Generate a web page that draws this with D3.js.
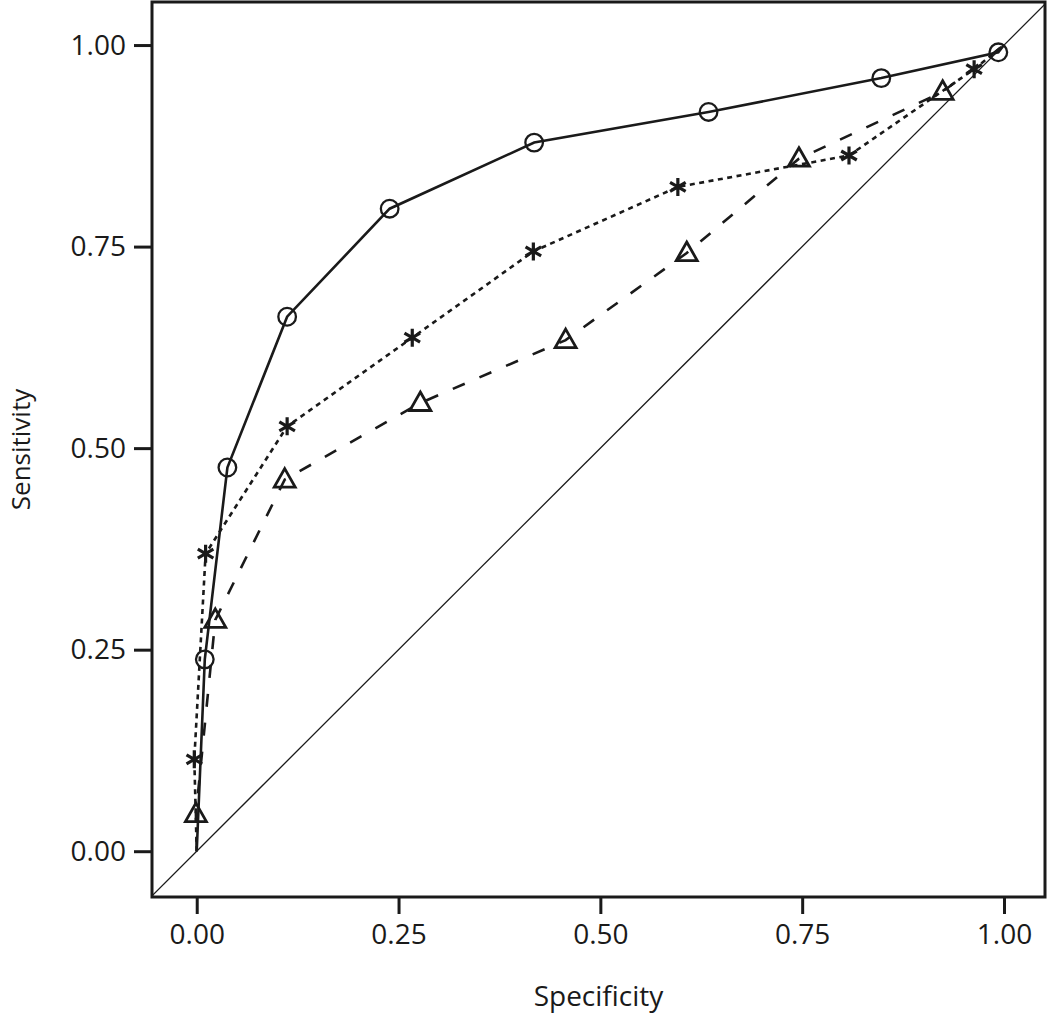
<!DOCTYPE html>
<html>
<head>
<meta charset="utf-8">
<script src="https://cdn.jsdelivr.net/npm/d3@7"></script>
<style>
body { margin: 0; background: #fff; }
svg { display: block; }
text { font-family: "Open Sans", "Noto Sans", sans-serif; fill: #1a1a1a; }
</style>
</head>
<body>
<svg id="chart" width="1050" height="1015"></svg>
<script>
// Data (specificity = x, sensitivity = y)
const circleX = [0, 0.010, 0.038, 0.112, 0.239, 0.418, 0.634, 0.848, 0.993, 1];
const circleY = [0, 0.238, 0.476, 0.663, 0.797, 0.879, 0.917, 0.959, 0.991, 1];
const starX = [0, -0.003, 0.011, 0.112, 0.267, 0.417, 0.596, 0.808, 0.963, 1];
const starY = [0, 0.114, 0.369, 0.527, 0.637, 0.744, 0.824, 0.863, 0.970, 1];
const triX = [0, -0.001, 0.023, 0.109, 0.277, 0.457, 0.607, 0.746, 0.924, 1];
const triY = [0, 0.046, 0.287, 0.461, 0.556, 0.634, 0.742, 0.859, 0.942, 1];
const tickValues = [0, 0.25, 0.5, 0.75, 1];
const tickLabels = ["0.00", "0.25", "0.50", "0.75", "1.00"];
const xTitle = "Specificity";
const yTitle = "Sensitivity";

const svg = d3.select("#chart");
const L = 152, R = 1045, T = 2, B = 897;
const x = d3.scaleLinear().domain([-0.0554, 1.0508]).range([L, R]);
const y = d3.scaleLinear().domain([-0.0568, 1.0534]).range([B, T]);
const ink = "#1a1a1a";

svg.append("defs").append("clipPath").attr("id", "clip")
  .append("rect").attr("x", L).attr("y", T).attr("width", R - L).attr("height", B - T);

const g = svg.append("g").attr("clip-path", "url(#clip)");

// diagonal reference
g.append("line")
  .attr("x1", x(-0.1)).attr("y1", y(-0.1))
  .attr("x2", x(1.1)).attr("y2", y(1.1))
  .attr("stroke", ink).attr("stroke-width", 1.3);

function series(xs, ys) { return xs.map((v, i) => [v, ys[i]]); }
const line = d3.line().x(d => x(d[0])).y(d => y(d[1]));

const sets = [
  { pts: series(circleX, circleY), dash: null, shape: "circle" },
  { pts: series(starX, starY), dash: "5,4.5", shape: "star" },
  { pts: series(triX, triY), dash: "13,16", shape: "tri" }
];

sets.forEach(s => {
  g.append("path").attr("d", line(s.pts))
    .attr("fill", "none").attr("stroke", ink).attr("stroke-width", 2.6)
    .attr("stroke-dasharray", s.dash);
});

sets.forEach(s => {
  const inner = s.pts.slice(1, -1);
  const mk = g.selectAll(null).data(inner).enter().append("g")
    .attr("transform", d => `translate(${x(d[0])},${y(d[1])})`);
  if (s.shape === "circle") {
    mk.append("circle").attr("r", 8.8).attr("fill", "none")
      .attr("stroke", ink).attr("stroke-width", 2.3);
  } else if (s.shape === "tri") {
    mk.append("path").attr("d", "M0,-11 L10.5,7.5 L-10.5,7.5 Z")
      .attr("fill", "none").attr("stroke", ink).attr("stroke-width", 2.8)
      .attr("stroke-linejoin", "miter");
  } else {
    const r = 9;
    const a = Math.PI / 6;
    const p = `M0,${-r}L0,${r}` +
      `M${-r*Math.cos(a)},${-r*Math.sin(a)}L${r*Math.cos(a)},${r*Math.sin(a)}` +
      `M${-r*Math.cos(a)},${r*Math.sin(a)}L${r*Math.cos(a)},${-r*Math.sin(a)}`;
    mk.append("path").attr("d", p).attr("stroke", ink).attr("stroke-width", 3.2);
  }
});

// frame
svg.append("rect").attr("x", L).attr("y", T).attr("width", R - L).attr("height", B - T)
  .attr("fill", "none").attr("stroke", ink).attr("stroke-width", 3);

// axes
const xAxis = d3.axisBottom(x).tickValues(tickValues)
  .tickFormat((d, i) => tickLabels[i]).tickSize(16).tickPadding(10);
const yAxis = d3.axisLeft(y).tickValues(tickValues)
  .tickFormat((d, i) => tickLabels[i]).tickSize(17).tickPadding(8);

const gx = svg.append("g").attr("transform", `translate(0,${B + 1})`).call(xAxis);
const gy = svg.append("g").attr("transform", `translate(${L - 1},0)`).call(yAxis);
[gx, gy].forEach(a => {
  a.select(".domain").remove();
  a.selectAll(".tick line").attr("stroke", ink).attr("stroke-width", 3);
  a.selectAll(".tick text").attr("font-size", 28).attr("fill", ink)
    .style("font-family", '"Open Sans", sans-serif');
});

svg.append("text").attr("x", (L + R) / 2).attr("y", 1006)
  .attr("text-anchor", "middle").attr("font-size", 28).text(xTitle);
svg.append("text").attr("transform", `translate(30,${(T + B) / 2}) rotate(-90)`)
  .attr("text-anchor", "middle").attr("font-size", 26).text(yTitle);
</script>
</body>
</html>
